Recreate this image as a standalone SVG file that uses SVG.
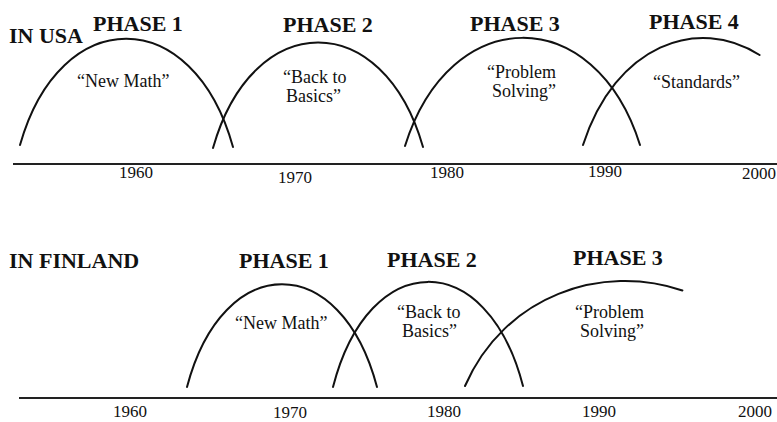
<svg xmlns="http://www.w3.org/2000/svg" width="777" height="422" viewBox="0 0 777 422">
<style>
.bg{fill:#fff}
.arc{fill:none;stroke:#111;stroke-width:2;stroke-linecap:round}
.axis{fill:none;stroke:#222;stroke-width:2}
.head{font-family:"Liberation Serif",serif;font-weight:bold;font-size:22px;fill:#111}
.lbl{font-family:"Liberation Serif",serif;font-size:18px;fill:#111}
.yr{font-family:"Liberation Serif",serif;font-size:17px;fill:#111}
</style>
<rect class="bg" x="0" y="0" width="777" height="422"/>

<g id="usa">
  <text class="head" x="9" y="43">IN USA</text>
  <g id="usa-phase1">
    <path class="arc" d="M20,145 C60,3 193,3 233,147"/>
    <text class="head" x="93" y="31">PHASE 1</text>
    <text class="lbl" x="77" y="87">“New Math”</text>
  </g>
  <g id="usa-phase2">
    <path class="arc" d="M213,148 C253,7.5 383,7.5 423,147"/>
    <text class="head" x="283" y="32">PHASE 2</text>
    <text class="lbl" x="283" y="83">“Back to</text>
    <text class="lbl" x="286" y="102">Basics”</text>
  </g>
  <g id="usa-phase3">
    <path class="arc" d="M405,146 C450,2 595,2 640,145"/>
    <text class="head" x="470" y="31">PHASE 3</text>
    <text class="lbl" x="487" y="78">“Problem</text>
    <text class="lbl" x="492" y="97">Solving”</text>
  </g>
  <g id="usa-phase4">
    <path class="arc" d="M583,145 C615.2,45 697.7,15.1 759.6,55"/>
    <text class="head" x="649" y="29">PHASE 4</text>
    <text class="lbl" x="653" y="88">“Standards”</text>
  </g>
  <g id="usa-years">
    <text class="yr" x="119" y="178">1960</text>
    <text class="yr" x="278" y="183">1970</text>
    <text class="yr" x="430" y="178">1980</text>
    <text class="yr" x="588" y="177">1990</text>
    <text class="yr" x="742" y="179">2000</text>
  </g>
</g>

<g id="finland">
  <text class="head" x="9" y="268">IN FINLAND</text>
  <g id="fin-phase1">
    <path class="arc" d="M187,387 C223,250 341,250 377,387"/>
    <text class="head" x="239" y="268">PHASE 1</text>
    <text class="lbl" x="235" y="329">“New Math”</text>
  </g>
  <g id="fin-phase2">
    <path class="arc" d="M333,387 C369,247 487,247 523,386"/>
    <text class="head" x="387" y="267">PHASE 2</text>
    <text class="lbl" x="397" y="318">“Back to</text>
    <text class="lbl" x="402" y="337">Basics”</text>
  </g>
  <g id="fin-phase3">
    <path class="arc" d="M465,386 C504.7,295 602.2,263.2 682.4,290.5"/>
    <text class="head" x="573" y="265">PHASE 3</text>
    <text class="lbl" x="575" y="318">“Problem</text>
    <text class="lbl" x="580" y="337">Solving”</text>
  </g>
  <g id="fin-years">
    <text class="yr" x="113" y="417">1960</text>
    <text class="yr" x="273" y="418">1970</text>
    <text class="yr" x="427" y="417">1980</text>
    <text class="yr" x="582" y="417">1990</text>
    <text class="yr" x="738" y="417">2000</text>
  </g>
</g>

<g id="connectors">
  <line class="axis" x1="13" y1="164" x2="777" y2="164"/>
  <line class="axis" x1="19" y1="398" x2="777" y2="398"/>
</g>
</svg>
